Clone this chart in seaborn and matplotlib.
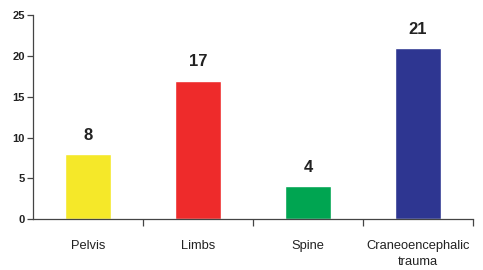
import matplotlib
matplotlib.use("Agg")
import matplotlib.pyplot as plt
import numpy as np
import pandas as pd
import seaborn as sns

categories = ["Pelvis", "Limbs", "Spine", "Craneoencephalic\ntrauma"]
counts = [8, 17, 4, 21]
colors = ["#F5E829", "#EE2B2B", "#00A551", "#2E3691"]
y_ticks = [0, 5, 10, 15, 20, 25]

sns.set_style("white")
plt.rcParams["font.family"] = ["Liberation Sans", "DejaVu Sans"]

df = pd.DataFrame({"category": categories, "count": counts})

fig = plt.figure(figsize=(4.83, 2.70), dpi=100)
ax = fig.add_axes([0.0683, 0.189, 0.911, 0.754])

sns.barplot(data=df, x="category", y="count", hue="category", palette=colors,
            legend=False, width=0.42, saturation=1, ax=ax)

for i, v in enumerate(counts):
    ax.annotate(str(v), xy=(i, v), xytext=(0, 8), textcoords="offset points",
                ha="center", va="bottom", fontsize=12, fontweight="bold", color="#222222")

ax.set_xlim(-0.5, 3.5)
ax.set_ylim(0, 25)
ax.set_yticks(y_ticks)
ax.set_yticklabels([str(t) for t in y_ticks], fontsize=8, fontweight="bold", color="#222222")
ax.set_xlabel("")
ax.set_ylabel("")

# category labels centered, ticks at boundaries
ax.set_xticks(range(len(categories)))
ax.set_xticklabels(categories, fontsize=9.3, color="#222222", linespacing=1.45)
ax.tick_params(axis="x", which="major", length=0, pad=15)
ax.set_xticks(np.arange(0.5, 4.0, 1.0), minor=True)
ax.tick_params(axis="x", which="minor", bottom=True, length=5, width=0.9,
               direction="out", color="#444444")
ax.tick_params(axis="y", length=4, width=0.9, direction="out", color="#444444", pad=2, left=True)

for s in ["top", "right"]:
    ax.spines[s].set_visible(False)
for s in ["left", "bottom"]:
    ax.spines[s].set_color("#444444")
    ax.spines[s].set_linewidth(0.9)

fig.savefig("out.png", dpi=100)
